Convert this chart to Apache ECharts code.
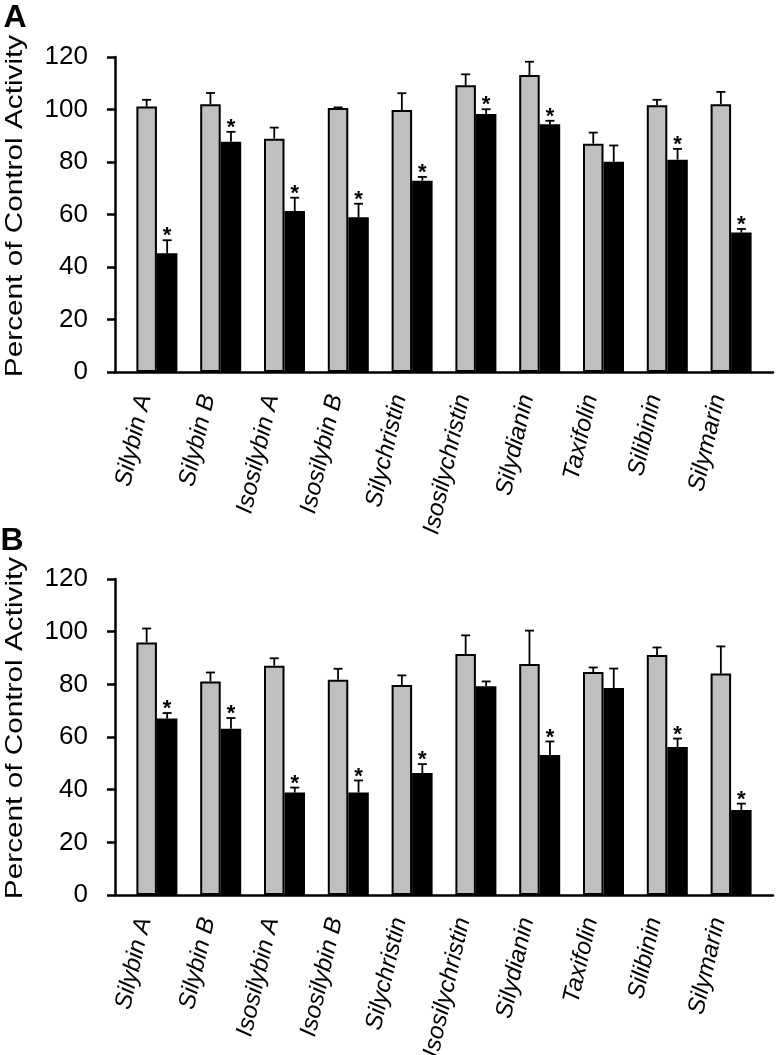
<!DOCTYPE html>
<html>
<head>
<meta charset="utf-8">
<script src="https://cdn.jsdelivr.net/npm/echarts@6/dist/echarts.min.js"></script>
<style>
html,body{margin:0;padding:0;background:#fff;}
#chart{width:776px;height:1055px;}
</style>
</head>
<body>
<div id="chart"></div>
<script>
const categories = ['Silybin A', 'Silybin B', 'Isosilybin A', 'Isosilybin B', 'Silychristin', 'Isosilychristin', 'Silydianin', 'Taxifolin', 'Silibinin', 'Silymarin'];
const yTicks = [0, 20, 40, 60, 80, 100, 120];

const aGray    = [101.1, 102.0, 88.9, 100.6, 99.8, 109.2, 113.1, 87.0, 101.6, 102.0];
const aGrayErr = [2.6, 4.3, 4.2, 0.2, 6.4, 4.2, 5.1, 4.2, 2.1, 4.7];
const aBlack   = [45.2, 87.7, 61.3, 59.0, 72.9, 98.3, 94.4, 80.1, 80.9, 53.1];
const aBlackErr= [5.0, 3.8, 5.1, 5.1, 1.4, 1.8, 1.3, 6.2, 4.1, 1.4];
const aSig     = [1, 1, 1, 1, 1, 1, 1, 0, 1, 1];

const bGray    = [95.9, 81.1, 87.1, 81.7, 79.7, 91.5, 87.7, 84.7, 91.1, 84.1];
const bGrayErr = [5.3, 3.4, 2.8, 4.2, 3.7, 7.1, 12.7, 1.7, 2.9, 10.3];
const bBlack   = [67.0, 63.1, 38.9, 38.9, 46.3, 79.3, 53.2, 78.6, 56.2, 32.3];
const bBlackErr= [2.1, 4.1, 1.9, 4.6, 3.4, 1.8, 5.1, 7.4, 3.2, 2.4];
const bSig     = [1, 1, 1, 1, 1, 0, 1, 0, 1, 1];

const FONT = '"Liberation Sans", Arial, Helvetica, sans-serif';
const BAR_W = 20.5;
const GRAY = '#bfbfbf';
const LABEL_SHIFT = 12;

const panels = [
  {top: 57, height: 315, gray: aGray, grayErr: aGrayErr, black: aBlack, blackErr: aBlackErr, sig: aSig},
  {top: 579, height: 316, gray: bGray, grayErr: bGrayErr, black: bBlack, blackErr: bBlackErr, sig: bSig}
];

const grid = [], xAxis = [], yAxis = [], series = [];
panels.forEach((p, i) => {
  const fi = i * 3, bi = i * 3 + 1, li = i * 3 + 2;
  grid.push({left: 115, right: 3, top: p.top, height: p.height, containLabel: false, outerBoundsMode: 'none'});
  grid.push({left: 125, right: 13, top: p.top, height: p.height, containLabel: false, outerBoundsMode: 'none'});
  grid.push({left: 125 - LABEL_SHIFT, right: 13 + LABEL_SHIFT, top: p.top, height: p.height, containLabel: false, outerBoundsMode: 'none'});
  xAxis.push({
    gridIndex: fi, type: 'value', min: 0, max: 1,
    axisLine: {show: true, lineStyle: {color: '#000', width: 2.5}},
    axisTick: {show: false}, axisLabel: {show: false}, splitLine: {show: false}
  });
  xAxis.push({
    gridIndex: bi, type: 'category', data: categories,
    axisLine: {show: false}, axisTick: {show: false}, splitLine: {show: false}, axisLabel: {show: false}
  });
  xAxis.push({
    gridIndex: li, type: 'category', data: categories,
    axisLine: {show: false}, axisTick: {show: false}, splitLine: {show: false},
    axisLabel: {
      interval: 0, rotate: 77, margin: 20, fontSize: 24, fontStyle: 'italic',
      fontFamily: FONT, color: '#000', padding: [0, 3, 19, 0], hideOverlap: false
    }
  });
  yAxis.push({
    gridIndex: fi, type: 'value', min: yTicks[0], max: yTicks[yTicks.length - 1], interval: 20,
    axisLine: {show: true, lineStyle: {color: '#000', width: 2.5}},
    axisTick: {show: true, inside: false, length: 8, lineStyle: {color: '#000', width: 2.5}},
    axisLabel: {fontSize: 26, margin: 27, color: '#000', fontFamily: FONT},
    splitLine: {show: false}
  });
  yAxis.push({gridIndex: bi, type: 'value', min: yTicks[0], max: yTicks[yTicks.length - 1], show: false});
  yAxis.push({gridIndex: li, type: 'value', min: yTicks[0], max: yTicks[yTicks.length - 1], show: false});

  series.push({
    type: 'bar', xAxisIndex: bi, yAxisIndex: bi, data: p.gray, barWidth: BAR_W, barGap: '0%',
    itemStyle: {color: GRAY, borderColor: '#000', borderWidth: 2}, z: 2
  });
  series.push({
    type: 'bar', xAxisIndex: bi, yAxisIndex: bi, data: p.black, barWidth: BAR_W, barGap: '0%',
    itemStyle: {color: '#000', borderColor: '#000', borderWidth: 2}, z: 2
  });
  const errData = [];
  categories.forEach((c, k) => {
    errData.push([k, p.gray[k], p.grayErr[k], 0, -1]);
    errData.push([k, p.black[k], p.blackErr[k], p.sig[k], 1]);
  });
  series.push({
    type: 'custom', xAxisIndex: bi, yAxisIndex: bi, data: errData, z: 5,
    encode: {x: 0, y: 1},
    renderItem: function (params, api) {
      const idx = api.value(0), v = api.value(1), e = api.value(2), s = api.value(3), side = api.value(4);
      const base = api.coord([idx, v]);
      const top = api.coord([idx, v + e]);
      const x = base[0] + side * BAR_W / 2;
      const children = [
        {type: 'line', shape: {x1: x, y1: base[1], x2: x, y2: top[1]}, style: {stroke: '#000', lineWidth: 1.8}},
        {type: 'line', shape: {x1: x - 4.5, y1: top[1], x2: x + 4.5, y2: top[1]}, style: {stroke: '#000', lineWidth: 1.8}}
      ];
      if (s) {
        children.push({type: 'text', style: {text: '*', x: x, y: top[1] - 4, align: 'center', verticalAlign: 'middle',
          font: 'bold 22px ' + FONT, fill: '#000'}});
      }
      return {type: 'group', children: children};
    }
  });
});

const graphic = [
  {type: 'text', x: 15, y: 18, style: {text: 'A', font: 'bold 32px ' + FONT, fill: '#000', align: 'center', verticalAlign: 'middle'}},
  {type: 'text', x: 12, y: 541, style: {text: 'B', font: 'bold 32px ' + FONT, fill: '#000', align: 'center', verticalAlign: 'middle'}},
  {type: 'text', x: 15, y: 206, rotation: Math.PI / 2, scaleX: 1.24, style: {text: 'Percent of Control Activity', font: '24px ' + FONT, fill: '#000', align: 'center', verticalAlign: 'middle'}},
  {type: 'text', x: 15, y: 728, rotation: Math.PI / 2, scaleX: 1.24, style: {text: 'Percent of Control Activity', font: '24px ' + FONT, fill: '#000', align: 'center', verticalAlign: 'middle'}}
];

const chart = echarts.init(document.getElementById('chart'), null, {renderer: 'canvas'});
chart.setOption({animation: false, backgroundColor: '#fff', grid, xAxis, yAxis, series, graphic});
</script>
</body>
</html>
